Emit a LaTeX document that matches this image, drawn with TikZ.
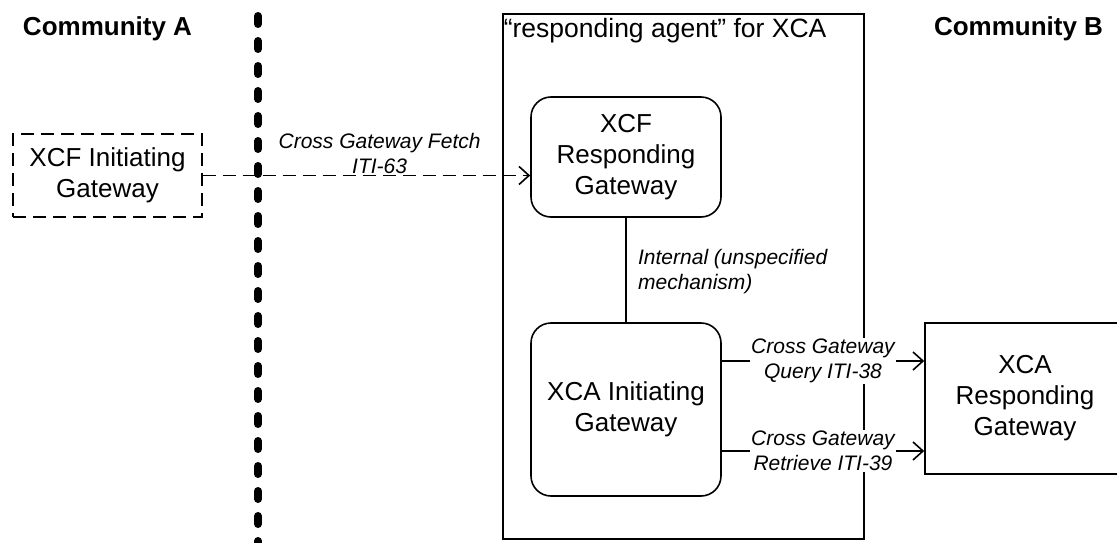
\documentclass[tikz,border=0pt]{standalone}
\usepackage{fontspec}
\setmainfont{Liberation Sans}
\usetikzlibrary{arrows.meta}

\begin{document}
\begin{tikzpicture}[x=1pt, y=-1pt, line width=1.6pt,
		gateway/.style={draw, rounded corners=20pt, align=center, font=\fontsize{26}{31}\selectfont},
		plainbox/.style={draw, align=center, font=\fontsize{26}{31}\selectfont},
		flow/.style={font=\fontsize{21}{25}\selectfont\itshape, align=center},
		community/.style={font=\fontsize{26}{31}\selectfont\bfseries},
		barb/.style={-{Straight Barb[length=10pt, width=18pt]}}]
		\def\sepX{258};
		\def\gwX{626};
		\def\gwWidth{190};
		
		\useasboundingbox (0,0) rectangle (1117,543);
		
		%communities
		\node[community, anchor=base] (commA) at (107.5,36) {Community A};
		\node[community, anchor=base] (commB) at (1018.5,36) {Community B};
		
		%community border
		\coordinate (sepTop) at (\sepX,16);
		\coordinate (sepBot) at (\sepX,560);
		\draw[line width=8pt, line cap=round, dash pattern=on 8pt off 17pt] (sepTop) -- (sepBot);
		
		%responding agent
		\node[draw, anchor=north west, minimum width=361pt, minimum height=525pt] (agent) at (502,13) {};
		\node[anchor=base west, inner sep=1pt, font=\fontsize{26.5}{31}\selectfont] (agentTitle) at (502,38) {``responding agent'' for XCA};
		
		%gateways
		\node[plainbox, dash pattern=on 13pt off 7pt, minimum width=189pt, minimum height=83pt] (xcfIG) at (107.5,175.5) {XCF Initiating\\Gateway};
		\node[gateway, minimum width=\gwWidth pt, minimum height=120pt] (xcfRG) at (\gwX,157) {XCF\\Responding\\Gateway};
		\node[gateway, minimum width=\gwWidth pt, minimum height=173pt] (xcaIG) at (\gwX,409.5) {XCA Initiating\\Gateway};
		\node[plainbox, minimum width=200pt, minimum height=151pt] (xcaRG) at (1025,398.5) {XCA\\Responding\\Gateway};
		
		%transactions
		\draw[barb, dash pattern=on 13pt off 7pt] (xcfIG.east) -- (xcfIG.east -| xcfRG.west) node[flow, pos=0.54, yshift=22pt] (fetchLabel) {Cross Gateway Fetch\\ITI-63};
		\draw (xcfRG.south) -- (xcaIG.north);
		\node[flow, align=left, anchor=west] (internalLabel) at (634,272) {Internal (unspecified\\mechanism)};
		\draw[barb] ([yshift=48.5pt]xcaIG.east) -- ([yshift=48.5pt]xcaIG.east -| xcaRG.west) node[flow, midway, fill=white, inner sep=1pt] (queryLabel) {Cross Gateway\\Query ITI-38};
		\draw[barb] ([yshift=-41.5pt]xcaIG.east) -- ([yshift=-41.5pt]xcaIG.east -| xcaRG.west) node[flow, midway, fill=white, inner sep=1pt] (retrieveLabel) {Cross Gateway\\Retrieve ITI-39};
	
	\end{tikzpicture}
\end{document}
